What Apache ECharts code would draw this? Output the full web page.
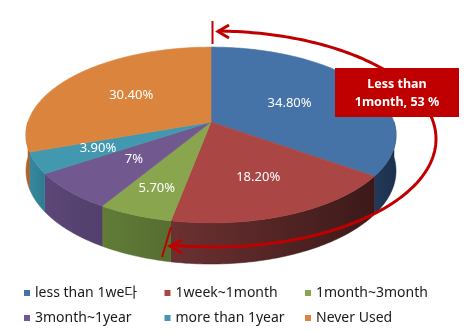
<!DOCTYPE html>
<html>
<head>
<meta charset="utf-8">
<script src="https://cdn.jsdelivr.net/npm/echarts@6/dist/echarts.min.js"></script>
<style>
  html, body { margin: 0; padding: 0; background: #fff; }
  #chart { width: 467px; height: 333px; }
</style>
</head>
<body>
<div id="chart"></div>
<script>
// Usage period categories and their share of respondents (%)
const CATEGORIES = ['less than 1we다', '1week~1month', '1month~3month', '3month~1year', 'more than 1year', 'Never Used'];
const SHARES = [34.8, 18.2, 5.7, 7, 3.9, 30.4];

// Slice colours: top face and the two ends of the side-wall shading
const TOP_COLORS = ['#4572A7', '#AA4643', '#89A54E', '#71588F', '#4198AF', '#DB843D'];
const WALL_COLORS = [
  ['#22395a', '#1b304c'],
  ['#6c3131', '#3c1919'],
  ['#617c37', '#566e31'],
  ['#5c4778', '#523f6b'],
  ['#3689a1', '#2f7b90'],
  ['#b56a31', '#a65f2b']
];

// Tilted-disc geometry (pixels)
const CX = 211, CY = 122, RX = 183, RY = 86, PERSP = 0.148, DEPTH = 35;
// Radial position of each value label, as a fraction of the radius
const LABEL_R = [0.5, 0.63, 0.74, 0.57, 0.66, 0.56];
const FONT = "'Noto Sans', 'Noto Sans CJK KR', sans-serif";

const total = SHARES.reduce((a, b) => a + b, 0);
const starts = [];
SHARES.reduce((acc, v, i) => { starts[i] = acc; return acc + v; }, 0);

// Angle measured clockwise from the back (12 o'clock) of the disc
function project(phiDeg, r, drop) {
  const a = phiDeg * Math.PI / 180;
  const X = r * Math.sin(a), down = -r * Math.cos(a);
  const w = 1 / (1 - PERSP * down);
  return [CX + RX * X * w, CY + (RY * down + drop) * w];
}

function arcPoints(a0, a1, r, drop) {
  const pts = [];
  const n = Math.max(2, Math.ceil(Math.abs(a1 - a0)));
  for (let k = 0; k <= n; k++) pts.push(project(a0 + (a1 - a0) * k / n, r, drop));
  return pts;
}

function fmt(v) {
  return (Number.isInteger(v) ? String(v) : v.toFixed(2)) + '%';
}

function makeRender(i) {
  return function (params, api) {
    const value = api.value(0);
    const a0 = starts[i] / total * 360;
    const a1 = (starts[i] + value) / total * 360;
    const children = [];
    // outer side wall, only on the front half of the disc
    const lo = Math.max(a0, 90), hi = Math.min(a1, 270);
    if (hi > lo) {
      const pts = arcPoints(lo, hi, 1, 0).concat(arcPoints(hi, lo, 1, DEPTH));
      children.push({
        type: 'polygon',
        shape: { points: pts },
        style: {
          fill: new echarts.graphic.LinearGradient(0, 0, 1, 0, [
            { offset: 0, color: WALL_COLORS[i][0] },
            { offset: 1, color: WALL_COLORS[i][1] }
          ]),
          stroke: WALL_COLORS[i][1], lineWidth: 0.5
        }
      });
    }
    // top face
    const top = [[CX, CY]].concat(arcPoints(a0, a1, 1, 0));
    children.push({
      type: 'polygon',
      shape: { points: top },
      style: { fill: TOP_COLORS[i], stroke: TOP_COLORS[i], lineWidth: 0.6 }
    });
    // value label
    const mid = (a0 + a1) / 2;
    const p = project(mid, LABEL_R[i], 0);
    children.push({
      type: 'text',
      z2: 100,
      style: {
        text: fmt(value), x: p[0], y: p[1],
        fill: '#ffffff', font: '13px ' + FONT,
        align: 'center', verticalAlign: 'middle'
      }
    });
    return { type: 'group', children: children };
  };
}

const series = CATEGORIES.map((name, i) => ({
  type: 'custom',
  name: name,
  coordinateSystem: 'none',
  itemStyle: { color: TOP_COLORS[i] },
  data: [[SHARES[i]]],
  renderItem: makeRender(i),
  animation: false,
  silent: true
}));

const legends = CATEGORIES.map((name, i) => ({
  data: [name],
  left: 24 + (i % 3) * 140.5,
  top: 286 + Math.floor(i / 3) * 25,
  padding: 0,
  icon: 'rect',
  itemWidth: 6,
  itemHeight: 6,
  selectedMode: false,
  textStyle: { fontSize: 14, color: '#1a1a1a', fontFamily: FONT }
}));

// Callout: an elliptical arrow sweeping over the first two slices
const ANN = '#c00000';
const arcPts = [];
for (let t = -89; t <= 101; t += 1) {
  const a = t * Math.PI / 180;
  arcPts.push([214 + 222 * Math.cos(a), 139 + 108 * Math.sin(a)]);
}
const underMonth = SHARES[0] + SHARES[1];

const graphic = [
  { type: 'polyline', z: 100, shape: { points: arcPts }, style: { stroke: ANN, lineWidth: 3, fill: null } },
  { type: 'polyline', z: 100, shape: { points: [[229, 25], [218, 31.5], [229, 38]] }, style: { stroke: ANN, lineWidth: 3, fill: null } },
  { type: 'polyline', z: 100, shape: { points: [[182, 240], [170, 246], [182, 253]] }, style: { stroke: ANN, lineWidth: 3, fill: null } },
  { type: 'line', z: 100, shape: { x1: 212.5, y1: 21, x2: 212.5, y2: 44 }, style: { stroke: ANN, lineWidth: 2 } },
  { type: 'line', z: 100, shape: { x1: 171, y1: 227, x2: 162, y2: 257 }, style: { stroke: ANN, lineWidth: 2 } },
  { type: 'rect', z: 101, shape: { x: 335, y: 68, width: 124, height: 49 }, style: { fill: ANN } },
  {
    type: 'text', z: 102,
    style: {
      x: 397, y: 93,
      text: 'Less than\n1month, ' + underMonth + ' %',
      fill: '#ffffff', font: 'bold 12.5px ' + FONT,
      align: 'center', verticalAlign: 'middle', lineHeight: 18
    }
  }
];

const chart = echarts.init(document.getElementById('chart'), null, { renderer: 'canvas' });
chart.setOption({
  backgroundColor: '#ffffff',
  animation: false,
  legend: legends,
  series: series,
  graphic: graphic
});
</script>
</body>
</html>
